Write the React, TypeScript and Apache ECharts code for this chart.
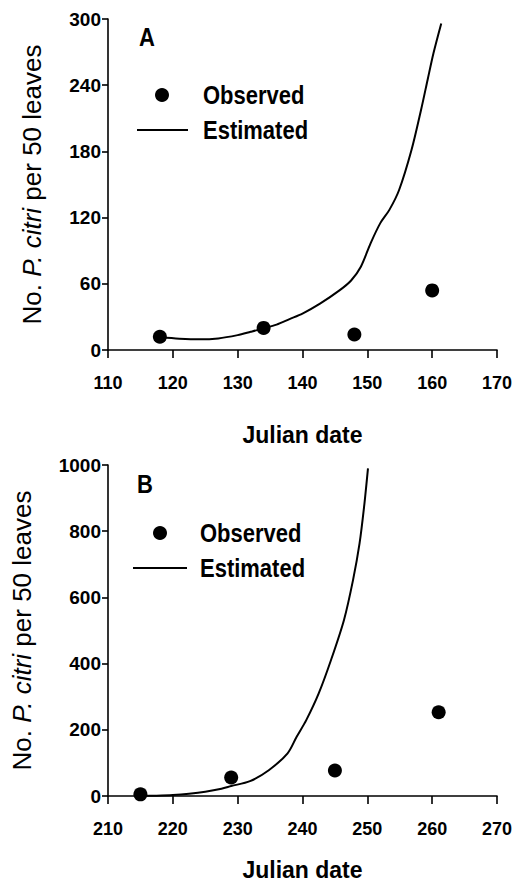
import React, { useEffect, useRef } from "react";
import * as echarts from "echarts";

// Panel A data
const obsADates = [118, 134, 148, 160];
const obsAValues = [12, 20, 14, 54];
const estADates = [118, 121, 124, 127, 130, 132, 134, 136, 138, 140, 142.7, 145.7, 147.5, 149.0, 150.5, 152.0, 153.4, 154.9, 156.8, 158.3, 159.3, 160.2, 161.4];
const estAValues = [11.5, 10.3, 9.7, 10.5, 13.5, 16.5, 19.6, 23, 28, 33, 42, 54, 63, 75.5, 96.7, 115, 127, 145, 181, 218, 245, 269, 296];

// Panel B data
const obsBDates = [215, 229, 245, 261];
const obsBValues = [5, 56, 77, 253];
const estBDates = [215, 217.5, 220, 222.5, 225, 227.5, 229, 231.9, 234.8, 237.7, 239.1, 240.6, 242.5, 244.4, 246.4, 247.8, 248.8, 249.5, 250.1];
const estBValues = [0, 1, 3, 7, 13, 22, 30, 45, 78, 129, 179, 230, 310, 411, 532, 653, 763, 874, 990];

// Axis ranges [min, max, interval]
const xRangeA = [110, 170, 10];
const yRangeA = [0, 300, 60];
const xRangeB = [210, 270, 10];
const yRangeB = [0, 1000, 200];

const panelLabels = ["A", "B"];
const legendNames = ["Observed", "Estimated"];
const xName = "Julian date";
const yName = "No. {i|P. citri} per 50 leaves";

const FONT = "'Liberation Sans', Arial, Helvetica, sans-serif";

function zip(xs: number[], ys: number[]) {
  return xs.map((x, i) => [x, ys[i]]);
}

function xAxis(idx: number, r: number[], nameGap: number) {
  return {
    type: "value",
    gridIndex: idx,
    min: r[0],
    max: r[1],
    interval: r[2],
    name: xName,
    nameLocation: "middle",
    nameGap,
    nameTextStyle: { fontSize: 23, color: "#000", fontFamily: FONT, fontWeight: "bold" },
    axisLine: { show: true, onZero: false, lineStyle: { color: "#000", width: 1.6 } },
    axisTick: { show: true, inside: false, length: 8, lineStyle: { color: "#000", width: 1.6 } },
    axisLabel: { margin: 24, fontSize: 18, color: "#000", fontFamily: FONT, fontWeight: "bold" },
    splitLine: { show: false },
  };
}

function yAxis(idx: number, r: number[], nameGap: number) {
  return {
    type: "value",
    gridIndex: idx,
    min: r[0],
    max: r[1],
    interval: r[2],
    name: yName,
    nameLocation: "middle",
    nameGap,
    nameTextStyle: {
      fontSize: 26,
      color: "#000",
      fontFamily: FONT,
      rich: { i: { fontSize: 26, color: "#000", fontStyle: "italic", fontFamily: FONT } },
    },
    axisLine: { show: true, onZero: false, lineStyle: { color: "#000", width: 1.6 } },
    axisTick: { show: true, inside: false, length: 6, lineStyle: { color: "#000", width: 1.6 } },
    axisLabel: {
      margin: 7,
      fontSize: 19,
      color: "#000",
      fontFamily: FONT,
      fontWeight: "bold",
      formatter: (v: number) => String(v),
    },
    splitLine: { show: false },
  };
}

function legendGraphics(label: string, lx: number, ly: number, dotX: number, dotY: number, lineX1: number, lineX2: number, lineY: number, textX: number) {
  const textStyle = (t: string) => ({
    text: t,
    fontSize: 22,
    fontWeight: "bold",
    fill: "#000",
    fontFamily: FONT,
    verticalAlign: "middle",
    align: "left",
  });
  return [
    { type: "text", x: lx, y: ly, scaleY: 1.15, style: textStyle(label) },
    { type: "circle", shape: { cx: dotX, cy: dotY, r: 7 }, style: { fill: "#000" } },
    { type: "text", x: textX, y: dotY, scaleY: 1.2, style: textStyle(legendNames[0]) },
    { type: "line", shape: { x1: lineX1, y1: lineY, x2: lineX2, y2: lineY }, style: { stroke: "#000", lineWidth: 2 } },
    { type: "text", x: textX, y: lineY, scaleY: 1.2, style: textStyle(legendNames[1]) },
  ];
}

export default function App() {
  const ref = useRef<HTMLDivElement>(null);
  useEffect(() => {
    if (!ref.current) return;
    const chart = echarts.init(ref.current, undefined, { renderer: "svg" });
    const scatterStyle = { color: "#000", opacity: 1 };
    const lineStyle = { color: "#000", width: 2 };
    chart.setOption({
      animation: false,
      backgroundColor: "#fff",
      textStyle: { fontFamily: FONT },
      grid: [
        { left: 108, top: 19, width: 389, height: 331 },
        { left: 108, top: 465, width: 389, height: 331 },
      ],
      xAxis: [xAxis(0, xRangeA, 73), xAxis(1, xRangeB, 62)],
      yAxis: [yAxis(0, yRangeA, 63), yAxis(1, yRangeB, 73)],
      series: [
        {
          name: legendNames[1],
          type: "line",
          xAxisIndex: 0,
          yAxisIndex: 0,
          data: zip(estADates, estAValues),
          showSymbol: false,
          smooth: 0.3,
          lineStyle,
          itemStyle: { color: "#000" },
          z: 2,
        },
        {
          name: legendNames[0],
          type: "scatter",
          xAxisIndex: 0,
          yAxisIndex: 0,
          data: zip(obsADates, obsAValues),
          symbol: "circle",
          symbolSize: 14,
          itemStyle: scatterStyle,
          z: 3,
        },
        {
          name: legendNames[1],
          type: "line",
          xAxisIndex: 1,
          yAxisIndex: 1,
          data: zip(estBDates, estBValues),
          showSymbol: false,
          smooth: 0.3,
          lineStyle,
          itemStyle: { color: "#000" },
          z: 2,
        },
        {
          name: legendNames[0],
          type: "scatter",
          xAxisIndex: 1,
          yAxisIndex: 1,
          data: zip(obsBDates, obsBValues),
          symbol: "circle",
          symbolSize: 14,
          itemStyle: scatterStyle,
          z: 3,
        },
      ],
      graphic: [
        ...legendGraphics(panelLabels[0], 139, 37, 162, 95, 137, 188, 130, 203),
        ...legendGraphics(panelLabels[1], 137, 484, 160, 533, 133, 187, 568, 200),
      ],
    });
    return () => chart.dispose();
  }, []);
  return (
    <div
      ref={ref}
      style={{ position: "fixed", left: 0, top: 0, width: 532, height: 896, background: "#fff" }}
    />
  );
}
